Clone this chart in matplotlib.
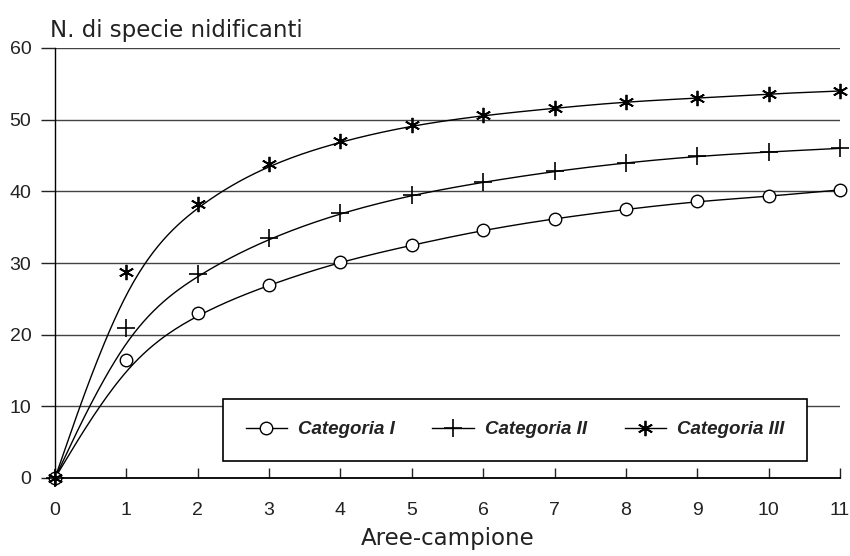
import numpy as np
import matplotlib
matplotlib.use("Agg")
import matplotlib.pyplot as plt

# number of sampled areas
aree = np.arange(0, 12)

# cumulative number of nesting species
cat_1 = np.array([0, 16.5, 23.0, 27.0, 30.2, 32.5, 34.6, 36.2, 37.5, 38.6, 39.3, 40.2])
cat_2 = np.array([0, 21.0, 28.5, 33.5, 37.0, 39.5, 41.3, 42.8, 44.0, 44.9, 45.5, 46.0])
cat_3 = np.array([0, 28.7, 38.3, 43.8, 47.0, 49.2, 50.6, 51.6, 52.5, 53.0, 53.6, 54.0])

labels = ["Categoria I", "Categoria II", "Categoria III"]
y_ticks = [0, 10, 20, 30, 40, 50, 60]


def bspline(x, y, n=30):
    # uniform cubic B-spline using the points as control points (clamped ends)
    px = np.r_[x[0], x[0], x, x[-1], x[-1]].astype(float)
    py = np.r_[y[0], y[0], y, y[-1], y[-1]].astype(float)
    t = np.linspace(0, 1, n)
    b0 = (1 - t) ** 3 / 6
    b1 = (3 * t**3 - 6 * t**2 + 4) / 6
    b2 = (-3 * t**3 + 3 * t**2 + 3 * t + 1) / 6
    b3 = t**3 / 6
    xs, ys = [], []
    for i in range(len(px) - 3):
        xs.append(b0 * px[i] + b1 * px[i + 1] + b2 * px[i + 2] + b3 * px[i + 3])
        ys.append(b0 * py[i] + b1 * py[i + 1] + b2 * py[i + 2] + b3 * py[i + 3])
    return np.concatenate(xs), np.concatenate(ys)


fig = plt.figure(figsize=(8.5, 5.56), dpi=100)
ax = fig.add_axes([55 / 850, 1 - 478 / 556, 785 / 850, 430 / 556])

styles = [
    dict(marker="o", markersize=9, mfc="white", mec="black", mew=1.0),
    dict(marker="+", markersize=13, mec="black", mew=1.2),
    dict(marker=(6, 2, 0), markersize=11, mec="black", mew=1.3),
]

for vals, lab, st in zip([cat_1, cat_2, cat_3], labels, styles):
    sx, sy = bspline(aree, vals)
    ax.plot(sx, sy, color="black", lw=1.0, zorder=3, clip_on=False)
    ax.plot(aree, vals, ls="none", zorder=4, clip_on=False, **st)
    ax.plot([], [], color="black", lw=1.0, label=lab, **st)

ax.set_xlim(0, 11)
ax.set_ylim(0, 60)
ax.set_xticks(aree)
ax.set_yticks(y_ticks)

ax.grid(axis="y", color="#444444", lw=1.0)
ax.set_axisbelow(True)
for s in ["top", "right"]:
    ax.spines[s].set_visible(False)
ax.spines["left"].set_linewidth(1.0)
ax.spines["bottom"].set_linewidth(1.3)

ax.tick_params(axis="x", direction="in", length=7, width=1, pad=17, labelsize=14, colors="#222")
ax.tick_params(axis="y", direction="out", length=10, width=1, pad=7, labelsize=14, colors="#222")
for lbl in ax.get_xticklabels() + ax.get_yticklabels():
    lbl.set_family("Liberation Sans")

fig.text(50 / 850, 1 - 37 / 556, "N. di specie nidificanti", fontsize=16.5, color="#222", va="baseline", ha="left")
ax.set_xlabel("Aree-campione", fontsize=16.5, color="#222", labelpad=6)

leg = ax.legend(loc="center", bbox_to_anchor=(0.586, 0.112), ncol=3, fancybox=False,
                framealpha=1, edgecolor="black", borderpad=1.2, handlelength=2.2,
                handletextpad=0.6, columnspacing=2.0, borderaxespad=0,
                prop=dict(family="Liberation Sans", weight="bold", style="italic", size=13.5))
leg.get_frame().set_linewidth(1.2)
for t in leg.get_texts():
    t.set_color("#222")

fig.savefig("out.png", dpi=100)
